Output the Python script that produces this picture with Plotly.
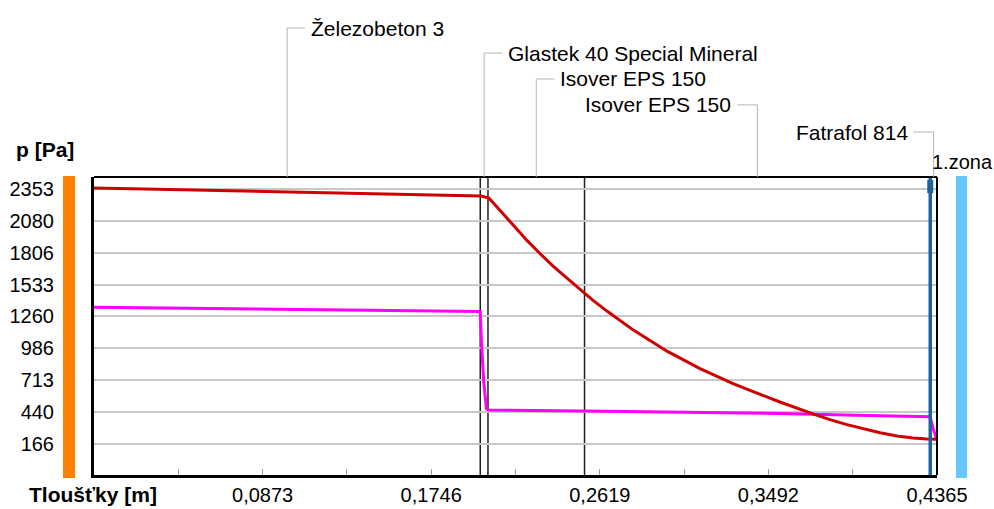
import plotly.graph_objects as go

# ---------------- data ----------------
layer_names = ["Železobeton 3", "Glastek 40 Special Mineral", "Isover EPS 150",
               "Isover EPS 150", "Fatrafol 814"]
layer_thickness = [0.2, 0.004, 0.05, 0.179, 0.0035]

x_tick_values = [0.04365, 0.0873, 0.13095, 0.1746, 0.21825, 0.2619,
                 0.30555, 0.3492, 0.39285, 0.4365]
x_tick_labels = ["", "0,0873", "", "0,1746", "", "0,2619", "", "0,3492", "", "0,4365"]

y_tick_values = [166, 440, 713, 986, 1260, 1533, 1806, 2080, 2353]
y_tick_labels = ["166", "440", "713", "986", "1260", "1533", "1806", "2080", "2353"]

# saturation pressure (red)
red_x = [0, 0.2004, 0.2045, 0.2102, 0.2170, 0.2242, 0.2309, 0.2377, 0.2449,
         0.2517, 0.2542, 0.2584, 0.2656, 0.2724, 0.2791, 0.2967, 0.3138, 0.3309,
         0.3485, 0.3552, 0.3723, 0.3811, 0.3899, 0.3982, 0.4070, 0.4158,
         0.4241, 0.4313, 0.4365]
red_p = [2362, 2293, 2276, 2170, 2040, 1912, 1800, 1692, 1588,
         1490, 1456, 1398, 1306, 1222, 1145, 962, 812, 683,
         565, 526, 425, 375, 332, 296, 262, 235,
         217, 208, 206]

# partial pressure (magenta)
mag_x = [0, 0.2, 0.2006, 0.2018, 0.2032, 0.2040, 0.2542, 0.3138, 0.3552,
         0.3950, 0.4329, 0.4345, 0.4365]
mag_p = [1338, 1302, 1050, 700, 470, 457, 449, 440, 428,
         412, 400, 300, 200]

x_title = "Tloušťky [m]"
y_title = "p [Pa]"
zone_label = "1.zona"

# ---------------- figure ----------------
FONT = "Liberation Sans"
fig = go.Figure()
fig.add_trace(go.Scatter(x=mag_x, y=mag_p, mode="lines",
                         line=dict(color="#FF00FF", width=3), hoverinfo="skip"))
fig.add_trace(go.Scatter(x=red_x, y=red_p, mode="lines",
                         line=dict(color="#D00000", width=3), hoverinfo="skip"))

bounds = []
acc = 0.0
for t in layer_thickness:
    acc += t
    bounds.append(acc)
starts = [0.0] + bounds[:-1]
mids = [(a + b) / 2 for a, b in zip(starts, bounds)]

shapes = []
# black layer boundaries
for b in bounds[:3]:
    shapes.append(dict(type="line", xref="x", yref="paper", x0=b, x1=b, y0=0, y1=1,
                       line=dict(color="#202020", width=1.5), layer="below"))
# blue zone line
shapes.append(dict(type="line", xref="x", yref="paper", x0=bounds[3], x1=bounds[3],
                   y0=0, y1=1, line=dict(color="#1F62A0", width=3.5)))
shapes.append(dict(type="rect", xref="x", xsizemode="pixel", xanchor=bounds[3],
                   x0=-3, x1=3, yref="paper", y0=0.946, y1=0.99,
                   fillcolor="#1F62A0", line=dict(width=0)))
# top/right border
shapes.append(dict(type="line", xref="paper", yref="paper", x0=0, x1=1, y0=1, y1=1,
                   line=dict(color="black", width=2)))
shapes.append(dict(type="line", xref="paper", yref="paper", x0=1, x1=1, y0=0, y1=1,
                   line=dict(color="black", width=2)))
# side colour bars
shapes.append(dict(type="rect", xref="paper", yref="paper", x0=-0.0368, x1=-0.0225,
                   y0=-0.01, y1=1.003, fillcolor="#FF8000", line=dict(width=0)))
shapes.append(dict(type="rect", xref="paper", yref="paper", x0=1.0225, x1=1.0356,
                   y0=-0.01, y1=1.003, fillcolor="#66C8FF", line=dict(width=0)))

annotations = []
label_y = [1.500, 1.416, 1.329, 1.242, 1.151]
label_side = ["left", "left", "left", "right", "right"]
LEAD = "#B4B4B4"
for name, m, ly, side in zip(layer_names, mids, label_y, label_side):
    shapes.append(dict(type="line", xref="x", yref="paper", x0=m, x1=m, y0=1, y1=ly,
                       line=dict(color=LEAD, width=1)))
    if side == "left":
        shapes.append(dict(type="line", xref="x", xsizemode="pixel", xanchor=m,
                           x0=0, x1=18, yref="paper", y0=ly, y1=ly,
                           line=dict(color=LEAD, width=1)))
        annotations.append(dict(x=m, y=ly, xref="x", yref="paper", text=name,
                                showarrow=False, xanchor="left", yanchor="middle",
                                xshift=22, font=dict(family=FONT, size=21, color="black")))
    else:
        shapes.append(dict(type="line", xref="x", xsizemode="pixel", xanchor=m,
                           x0=-20, x1=0, yref="paper", y0=ly, y1=ly,
                           line=dict(color=LEAD, width=1)))
        annotations.append(dict(x=m, y=ly, xref="x", yref="paper", text=name,
                                showarrow=False, xanchor="right", yanchor="middle",
                                xshift=-24, font=dict(family=FONT, size=21, color="black")))

annotations.append(dict(x=-0.0949, y=1.091, xref="paper", yref="paper", text="<b>%s</b>" % y_title,
                        showarrow=False, xanchor="left", yanchor="middle",
                        font=dict(family=FONT, size=21, color="black")))
annotations.append(dict(x=-0.0795, y=-0.067, xref="paper", yref="paper", text="<b>%s</b>" % x_title,
                        showarrow=False, xanchor="left", yanchor="middle",
                        font=dict(family=FONT, size=21, color="black")))
annotations.append(dict(x=0.992, y=1.050, xref="paper", yref="paper", text=zone_label,
                        showarrow=False, xanchor="left", yanchor="middle",
                        font=dict(family=FONT, size=20, color="black")))

fig.update_layout(
    width=994, height=509,
    margin=dict(l=94, r=57, t=177, b=34, autoexpand=False),
    paper_bgcolor="white", plot_bgcolor="white",
    showlegend=False,
    font=dict(family=FONT, size=20, color="black"),
    shapes=shapes, annotations=annotations,
    xaxis=dict(range=[0, 0.4365], tickvals=x_tick_values, ticktext=x_tick_labels,
               ticks="inside", ticklen=6, tickwidth=1, tickcolor="#A0A0A0",
               showgrid=False, zeroline=False, showline=True, linewidth=3,
               linecolor="black", tickfont=dict(family=FONT, size=20, color="black"),
               automargin=False, fixedrange=True),
    yaxis=dict(range=[-100, 2456], tickvals=y_tick_values, ticktext=y_tick_labels,
               ticks="", showgrid=True, gridcolor="#C8C8C8", gridwidth=1.5,
               zeroline=False, showline=True, linewidth=3, linecolor="black",
               ticklabelstandoff=33, automargin=False,
               tickfont=dict(family=FONT, size=20, color="black"), fixedrange=True),
)

fig.write_html("out.html", config={"displayModeBar": False},
               post_script="document.body.style.margin='0';")
